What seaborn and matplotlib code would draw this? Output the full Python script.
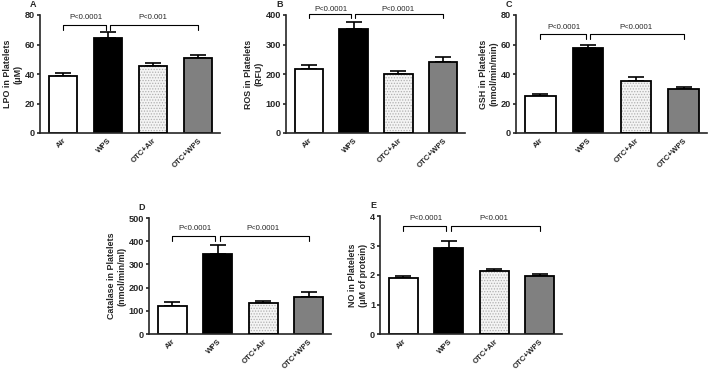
import numpy as np
import pandas as pd
import seaborn as sns
import matplotlib.pyplot as plt

sns.set_style('ticks')
plt.rcParams['font.family'] = ['Liberation Sans', 'DejaVu Sans']
plt.rcParams['font.weight'] = 'bold'
plt.rcParams['hatch.linewidth'] = 0.6

# groups and bar colours
groups = ['Air', 'WPS', 'OTC+Air', 'OTC+WPS']
colors = ['#ffffff', '#000000', '#f4f4f4', '#808080']

# mean values and upper error (SEM) for each panel
lpo_mean = [38.8, 64.6, 45.5, 51.0]
lpo_err = [1.8, 4.0, 2.0, 1.7]
ros_mean = [217, 353, 200, 240]
ros_err = [15, 22, 11, 16]
gsh_mean = [25.0, 57.5, 35.0, 29.5]
gsh_err = [1.5, 2.5, 3.0, 1.5]
cat_mean = [120, 345, 132, 158]
cat_err = [20, 37, 11, 25]
no_mean = [1.90, 2.93, 2.15, 1.97]
no_err = [0.08, 0.22, 0.05, 0.06]

ylabels = ['LPO in Platelets\n(\u03bcM)', 'ROS in Platelets\n(RFU)',
           'GSH in Platelets\n(nmol/min/min)', 'Catalase in Platelets\n(nmol/min/ml)',
           'NO in Platelets\n(\u03bcM of protein)']
letters = ['A', 'B', 'C', 'D', 'E']
ymax = [80, 400, 80, 500, 4]
ystep = [20, 100, 20, 100, 1]
p_left = ['P<0.0001', 'P<0.0001', 'P<0.0001', 'P<0.0001', 'P<0.0001']
p_right = ['P<0.001', 'P<0.0001', 'P<0.0001', 'P<0.0001', 'P<0.001']
# bracket top, bracket foot, text height (data units)
brackets = [(73, 70, 78), (402, 389, 420), (67, 63.5, 71.5), (421, 402, 454), (3.66, 3.5, 3.92)]

means = [lpo_mean, ros_mean, gsh_mean, cat_mean, no_mean]
errs = [lpo_err, ros_err, gsh_err, cat_err, no_err]

W, H = 708, 370
# left, right, top, bottom in pixels
boxes = [(40, 220, 15, 133), (286, 465, 15, 133), (516, 707, 15, 133),
         (149, 331, 218, 334), (380, 562, 216, 334)]

fig = plt.figure(figsize=(W / 100, H / 100), dpi=100)

for i in range(5):
    l, r, t, b = boxes[i]
    ax = fig.add_axes([l / W, 1 - b / H, (r - l) / W, (b - t) / H])
    df = pd.DataFrame({'group': groups, 'value': means[i]})
    sns.barplot(data=df, x='group', y='value', hue='group', palette=colors,
                legend=False, errorbar=None, width=0.64, edgecolor='black',
                linewidth=1.3, ax=ax, zorder=2)
    # dotted fill for OTC+Air
    p = ax.patches[2]
    p.set_hatch('......')
    p.set_edgecolor('#b0b0b0')
    p.set_linewidth(0)
    ax.bar(2, means[i][2], width=0.64, fill=False, edgecolor='black',
           linewidth=1.3, zorder=3)
    x = np.arange(4)
    ax.errorbar(x, means[i], yerr=[np.zeros(4), errs[i]], fmt='none',
                ecolor='black', elinewidth=1.2, capsize=5.5, capthick=1.2, zorder=1)

    ax.set_xlim(-0.51, 3.49)
    ax.set_ylim(0, ymax[i])
    ax.set_yticks(np.arange(0, ymax[i] + ystep[i] / 2, ystep[i]))
    ax.set_xlabel('')
    ax.set_ylabel(ylabels[i], fontsize=6.4, fontweight='bold', labelpad=1.5, linespacing=1.25)
    sns.despine(ax=ax)
    for s in ['left', 'bottom']:
        ax.spines[s].set_linewidth(1.2)
    ax.tick_params(axis='y', labelsize=6.6, width=1.2, length=2.5, pad=1)
    ax.tick_params(axis='x', labelsize=5.6, length=0, pad=3)
    for lab in ax.get_xticklabels():
        lab.set_rotation(45)
        lab.set_ha('right')
        lab.set_rotation_mode('anchor')
        lab.set_fontweight('bold')
    for lab in ax.get_yticklabels():
        lab.set_fontweight('bold')

    top, foot, ty = brackets[i]
    ax.plot([0, 0, 0.95, 0.95], [foot, top, top, foot], color='black', lw=0.8, clip_on=False)
    ax.plot([1.04, 1.04, 3, 3], [foot, top, top, foot], color='black', lw=0.8, clip_on=False)
    ax.text(0.5, ty, p_left[i], ha='center', va='center', fontsize=5.6, fontweight='normal')
    ax.text(2.0, ty, p_right[i], ha='center', va='center', fontsize=5.6, fontweight='normal')
    ax.text(-0.02, 1.05, letters[i], transform=ax.transAxes, fontsize=6.5,
            fontweight='bold', ha='right', va='bottom')

fig.savefig('out.png', dpi=100)
